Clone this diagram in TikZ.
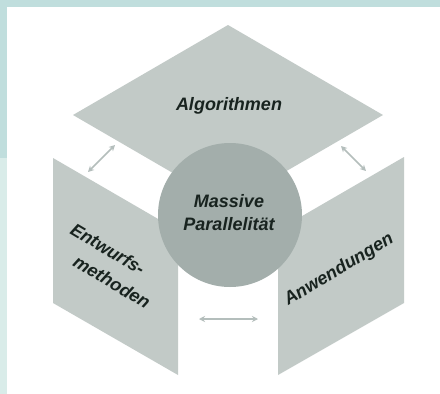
\documentclass[tikz,border=0pt]{standalone}
\usepackage{fontspec}
\setmainfont{Liberation Sans}
\usetikzlibrary{arrows.meta}
\definecolor{teal1}{HTML}{C0DEDD}
\definecolor{teal2}{HTML}{D9ECE9}
\definecolor{panel}{HTML}{C2CAC7}
\definecolor{core}{HTML}{A3AEAB}
\definecolor{ink}{HTML}{18231F}
\definecolor{arr}{HTML}{B4BEBC}
\tikzset{
  lbl/.style={text=ink,font=\fontsize{18}{23}\selectfont\bfseries\itshape,inner sep=0pt,align=center},
  link/.style={draw=arr,line width=1.6pt,{Stealth[length=6pt,width=6pt]}-{Stealth[length=6pt,width=6pt]}}
}
\begin{document}
\begin{tikzpicture}[x=1pt,y=-1pt]
\useasboundingbox (0,0) rectangle (440,394);
\fill[white] (0,0) rectangle (440,394);
\fill[teal1] (0,0) rectangle (440,7);
\fill[teal1] (0,0) rectangle (7,158);
\fill[teal2] (0,158) rectangle (7,394);
% panels
\fill[panel] (53,158) -- (178,230.5) -- (178,375) -- (53,303) -- cycle;
\fill[panel] (404,157) -- (278,230) -- (278,375) -- (404,303) -- cycle;
\fill[panel] (228,25) -- (383,115) -- (228,205) -- (73,115) -- cycle;
% core
\node[circle,fill=core,minimum size=144pt,inner sep=0pt] (core) at (230,215) {};
\node[lbl] (mp) at (229,213) {Massive\\Parallelität};
\node[lbl] (alg) at (229,106) {Algorithmen};
\node[lbl,rotate=-31] (ent1) at (108,249) {Entwurfs-};
\node[lbl,rotate=-31] (ent2) at (112,282) {methoden};
\node[lbl,rotate=31] (anw) at (339,270) {Anwendungen};
% arrows
\coordinate (a1) at (88,172); \coordinate (b1) at (115,145);
\coordinate (a2) at (341,146); \coordinate (b2) at (366,171);
\coordinate (a3) at (199,319); \coordinate (b3) at (258,319);
\draw[link] (a1) -- (b1);
\draw[link] (a2) -- (b2);
\draw[link] (a3) -- (b3);
\end{tikzpicture}
\end{document}
